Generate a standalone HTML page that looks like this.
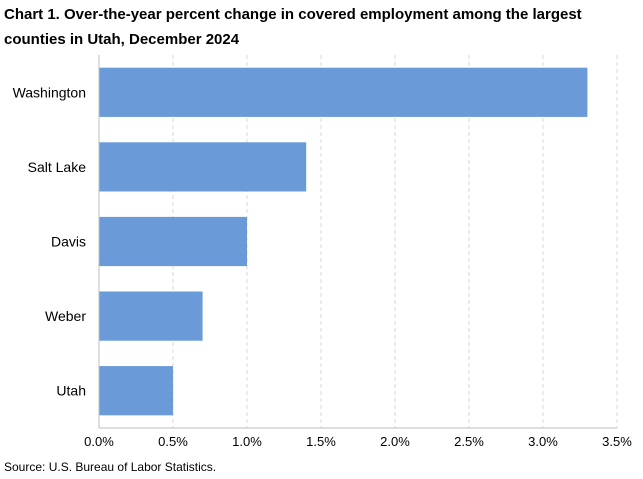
<!DOCTYPE html>
<html><head><meta charset="utf-8"><style>
body{margin:0;background:#fff;}
svg text{font-family:"Liberation Sans",Arial,sans-serif;}
</style></head><body>
<svg width="643" height="474" xmlns="http://www.w3.org/2000/svg">
<text x="4" y="19" font-size="15" font-weight="bold" fill="#000">Chart 1. Over-the-year percent change in covered employment among the largest</text>
<text x="4" y="44" font-size="15" font-weight="bold" fill="#000">counties in Utah, December 2024</text>
<g id="grid"></g><g id="bars"></g><g id="axis"></g>
<text x="4" y="471" font-size="12" fill="#000">Source: U.S. Bureau of Labor Statistics.</text>
</svg>
<script>
const categories=["Washington","Salt Lake","Davis","Weber","Utah"];
const values=[3.3,1.4,1.0,0.7,0.5];
const ticks=[0,0.5,1.0,1.5,2.0,2.5,3.0,3.5];
const tickLabels=["0.0%","0.5%","1.0%","1.5%","2.0%","2.5%","3.0%","3.5%"];
const NS="http://www.w3.org/2000/svg";
const x0=99,x1=617,yTop=55,yBot=428,xMax=3.5;
const xs=v=>x0+(v/xMax)*(x1-x0);
const band=(yBot-yTop)/categories.length;
function mk(t,a,p){const e=document.createElementNS(NS,t);for(const k in a)e.setAttribute(k,a[k]);p.appendChild(e);return e;}
const grid=document.getElementById('grid'),bars=document.getElementById('bars'),axis=document.getElementById('axis');
ticks.forEach((t,i)=>{
 if(t>0){const l=mk('line',{x1:xs(t),x2:xs(t),y1:yTop,y2:yBot,stroke:'#d9d9d9','stroke-dasharray':'4,3'},grid);
 
 }
 const tx=mk('text',{x:xs(t),y:yBot+18,'font-size':13,'text-anchor':'middle',fill:'#000'},axis);
 tx.textContent=tickLabels[i];
 
 
});
const ax=mk('line',{x1:x0,x2:x1,y1:yBot,y2:yBot,stroke:'#bfbfbf'},axis);


const ay=mk('line',{x1:x0,x2:x0,y1:yTop,y2:yBot,stroke:'#bfbfbf'},axis);


categories.forEach((c,i)=>{
 const yc=yTop+band*(i+0.5),h=band*0.66;
 const r=mk('rect',{x:x0,y:yc-h/2,width:xs(values[i])-x0,height:h,fill:'#6a9bd8'},bars);
 
 
 const t=mk('text',{x:x0-13,y:yc+5,'font-size':14,'text-anchor':'end',fill:'#000'},axis);
 t.textContent=c;
 
 
});
</script>
</body></html>
